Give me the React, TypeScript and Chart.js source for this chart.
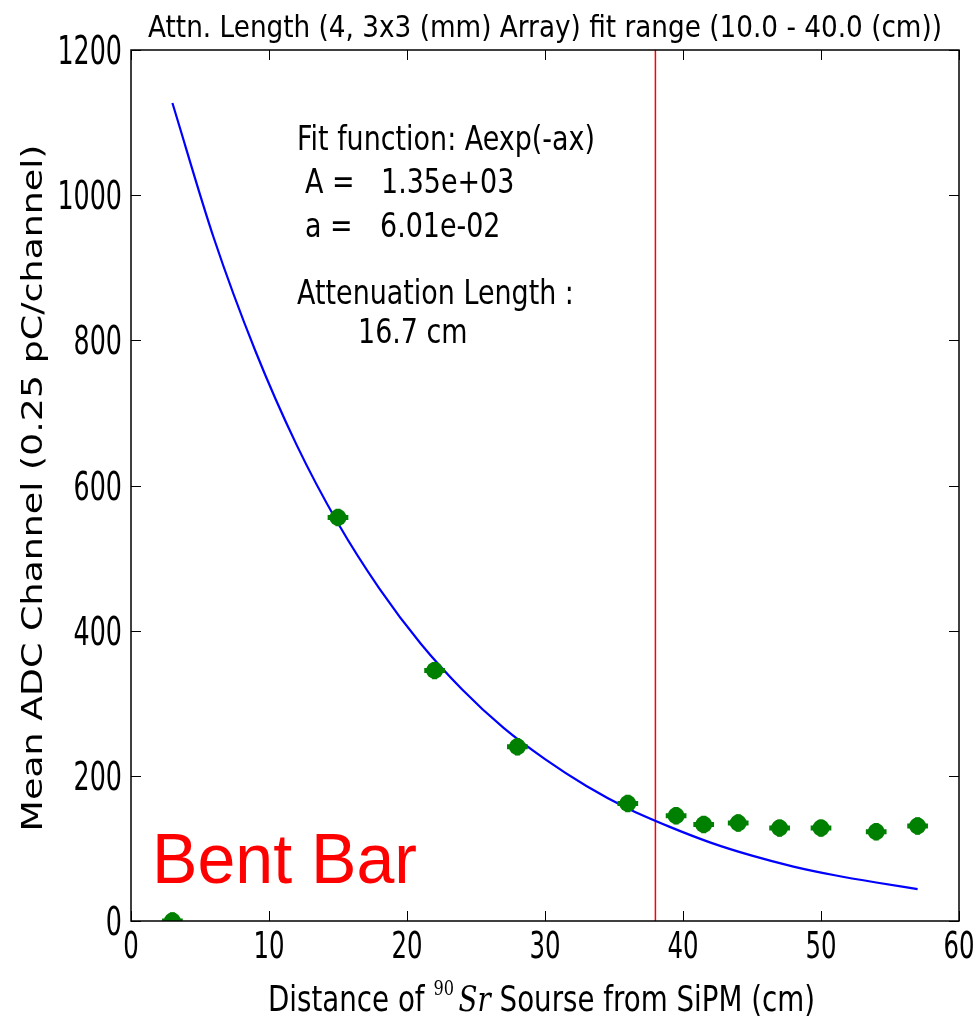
import { useEffect, useRef } from 'react';
import { Chart, registerables } from 'chart.js';

Chart.register(...registerables);

// ---- data ----
const distance = [3, 15, 22, 28, 36, 39.5, 41.5, 44, 47, 50, 54, 57];
const meanAdc = [0, 556, 345, 240, 162, 145, 133, 135, 128, 128, 123, 131];
const distanceErr = [0.75, 0.75, 0.75, 0.75, 0.75, 0.75, 0.75, 0.75, 0.75, 0.75, 0.75, 0.75];
const adcErr = [12, 12, 12, 12, 12, 12, 12, 12, 12, 12, 12, 12];

const fitX = [3, 6, 9, 12, 15, 18, 21, 24, 27, 30, 33, 36, 39, 42, 45, 48, 51, 54, 57];
const fitY = [1127, 941, 786, 656, 548, 458, 382, 319, 266, 223, 186, 155, 130, 108, 90, 75, 63, 53, 44];

const cutX = [38, 38];
const cutY = [0, 1200];

const xTickStep = 10;
const yTickStep = 200;

const titleText = 'Attn. Length (4, 3x3 (mm) Array) fit range (10.0 - 40.0 (cm))';
const yLabelText = 'Mean ADC Channel (0.25 pC/channel)';
const xLabelParts = ['Distance of ', '90', 'Sr', ' Sourse from SiPM (cm)'];
const fitLines = ['Fit function: Aexp(-ax)', 'A =', '1.35e+03', 'a =', '6.01e-02', 'Attenuation Length :', '16.7 cm'];
const tagText = 'Bent Bar';

const SANS = '"DejaVu Sans", sans-serif';
const SERIF = '"DejaVu Serif", "Liberation Serif", serif';

function drawScaled(
  ctx: CanvasRenderingContext2D,
  text: string,
  x: number,
  y: number,
  font: string,
  sx: number,
  align: 'left' | 'center' | 'right',
  color = '#000'
) {
  ctx.save();
  ctx.font = font;
  ctx.fillStyle = color;
  ctx.textBaseline = 'alphabetic';
  ctx.textAlign = 'left';
  const w = ctx.measureText(text).width * sx;
  const x0 = align === 'left' ? x : align === 'center' ? x - w / 2 : x - w;
  ctx.translate(x0, y);
  ctx.scale(sx, 1);
  ctx.fillText(text, 0, 0);
  ctx.restore();
}

function measure(ctx: CanvasRenderingContext2D, text: string, font: string) {
  ctx.save();
  ctx.font = font;
  const w = ctx.measureText(text).width;
  ctx.restore();
  return w;
}

const errorBarPlugin = {
  id: 'errorBars',
  afterDatasetsDraw(chart: any) {
    const ctx: CanvasRenderingContext2D = chart.ctx;
    const xs = chart.scales.x;
    const ys = chart.scales.y;
    const { left, right, top, bottom } = chart.chartArea;
    ctx.save();
    ctx.beginPath();
    ctx.rect(left, top, right - left, bottom - top);
    ctx.clip();
    ctx.strokeStyle = '#008000';
    ctx.lineWidth = 5;
    ctx.lineCap = 'butt';
    distance.forEach((d, i) => {
      const px = xs.getPixelForValue(d);
      const py = ys.getPixelForValue(meanAdc[i]);
      ctx.beginPath();
      ctx.moveTo(xs.getPixelForValue(d - distanceErr[i]), py);
      ctx.lineTo(xs.getPixelForValue(d + distanceErr[i]), py);
      ctx.moveTo(px, ys.getPixelForValue(meanAdc[i] - adcErr[i]));
      ctx.lineTo(px, ys.getPixelForValue(meanAdc[i] + adcErr[i]));
      ctx.stroke();
    });
    ctx.restore();
  },
};

const decorPlugin = {
  id: 'mplDecor',
  afterDraw(chart: any) {
    const ctx: CanvasRenderingContext2D = chart.ctx;
    const xs = chart.scales.x;
    const ys = chart.scales.y;
    const { left, right, top, bottom } = chart.chartArea;
    const TICK = 10;
    ctx.save();
    // frame
    ctx.strokeStyle = '#000';
    ctx.lineWidth = 1.5;
    ctx.strokeRect(left, top, right - left, bottom - top);
    // ticks
    ctx.lineWidth = 1;
    ctx.beginPath();
    xs.ticks.forEach((t: any) => {
      const p = Math.round(xs.getPixelForValue(t.value)) + 0.5;
      ctx.moveTo(p, bottom);
      ctx.lineTo(p, bottom - TICK);
      ctx.moveTo(p, top);
      ctx.lineTo(p, top + TICK);
    });
    ys.ticks.forEach((t: any) => {
      const p = Math.round(ys.getPixelForValue(t.value)) + 0.5;
      ctx.moveTo(left, p);
      ctx.lineTo(left + TICK, p);
      ctx.moveTo(right, p);
      ctx.lineTo(right - TICK, p);
    });
    ctx.stroke();
    ctx.restore();

    // tick labels
    const xTickFont = `37px ${SANS}`;
    xs.ticks.forEach((t: any) => {
      drawScaled(ctx, String(t.value), xs.getPixelForValue(t.value), 958, xTickFont, 0.66, 'center');
    });
    const yTickFont = `39px ${SANS}`;
    ys.ticks.forEach((t: any) => {
      drawScaled(ctx, String(t.value), left - 9, ys.getPixelForValue(t.value) + 14, yTickFont, 0.65, 'right');
    });

    // title
    const titleFont = `30px ${SANS}`;
    const titleSx = 794 / measure(ctx, titleText, titleFont);
    drawScaled(ctx, titleText, 148, 37, titleFont, titleSx, 'left');

    // x label with superscript and math italic
    const xlFont = `36px ${SANS}`;
    const supFont = `21px ${SERIF}`;
    const itFont = `italic 36px ${SERIF}`;
    const w0 = measure(ctx, xLabelParts[0], xlFont);
    const w1 = measure(ctx, xLabelParts[1], supFont);
    const w2 = measure(ctx, xLabelParts[2], itFont);
    const w3 = measure(ctx, xLabelParts[3], xlFont);
    const gap = 6;
    const total = w0 + w1 + gap + w2 + w3;
    const xlSx = 547 / total;
    let cx = 268;
    drawScaled(ctx, xLabelParts[0], cx, 1011, xlFont, xlSx, 'left');
    cx += w0 * xlSx;
    drawScaled(ctx, xLabelParts[1], cx, 995, supFont, xlSx, 'left');
    cx += (w1 + gap) * xlSx;
    drawScaled(ctx, xLabelParts[2], cx, 1011, itFont, xlSx, 'left');
    cx += w2 * xlSx;
    drawScaled(ctx, xLabelParts[3], cx, 1011, xlFont, xlSx, 'left');

    // y label (rotated)
    const ylFont = `36px ${SANS}`;
    const ylLen = measure(ctx, yLabelText, ylFont);
    ctx.save();
    ctx.font = ylFont;
    ctx.fillStyle = '#000';
    ctx.textAlign = 'center';
    ctx.textBaseline = 'middle';
    ctx.translate(35, 488);
    ctx.scale(0.8, 1);
    ctx.rotate(-Math.PI / 2);
    ctx.scale(687 / ylLen, 1);
    ctx.fillText(yLabelText, 0, 0);
    ctx.restore();

    // fit annotation
    const fFont = `34px ${SANS}`;
    const fSx = 298 / measure(ctx, fitLines[0], fFont);
    drawScaled(ctx, fitLines[0], 297, 150, fFont, fSx, 'left');
    drawScaled(ctx, fitLines[1], 305, 193, fFont, fSx, 'left');
    drawScaled(ctx, fitLines[2], 381, 193, fFont, fSx, 'left');
    drawScaled(ctx, fitLines[3], 305, 237, fFont, fSx, 'left');
    drawScaled(ctx, fitLines[4], 380, 237, fFont, fSx, 'left');
    drawScaled(ctx, fitLines[5], 297, 304, fFont, fSx, 'left');
    drawScaled(ctx, fitLines[6], 358, 343, fFont, fSx, 'left');

    // tag
    const tagFont = `70px "Liberation Sans", Arial, sans-serif`;
    const tagSx = 265 / measure(ctx, tagText, tagFont);
    drawScaled(ctx, tagText, 152, 883, tagFont, tagSx, 'left', '#ff0000');
  },
};

export default function App() {
  const canvasRef = useRef<HTMLCanvasElement | null>(null);

  useEffect(() => {
    document.body.style.margin = '0';
    const canvas = canvasRef.current;
    if (!canvas) return;
    const chart = new Chart(canvas, {
      type: 'scatter',
      data: {
        datasets: [
          {
            label: 'data',
            data: distance.map((d, i) => ({ x: d, y: meanAdc[i] })),
            backgroundColor: '#008000',
            borderColor: '#008000',
            pointRadius: 8.5,
            pointHoverRadius: 8.5,
            borderWidth: 0,
            order: 0,
            clip: 0,
          },
          {
            label: 'fit',
            data: fitX.map((d, i) => ({ x: d, y: fitY[i] })),
            showLine: true,
            borderColor: '#0000ff',
            borderWidth: 2.2,
            pointRadius: 0,
            cubicInterpolationMode: 'monotone',
            order: 1,
          },
          {
            label: 'cut',
            data: cutX.map((d, i) => ({ x: d, y: cutY[i] })),
            showLine: true,
            borderColor: '#ff0000',
            borderWidth: 1.5,
            pointRadius: 0,
            order: 2,
            clip: 0,
          },
        ] as any,
      },
      options: {
        animation: false,
        responsive: false,
        maintainAspectRatio: false,
        events: [],
        layout: { padding: { top: 50, right: 18, left: 0, bottom: 0 } },
        plugins: {
          legend: { display: false },
          tooltip: { enabled: false },
          title: { display: false },
        },
        scales: {
          x: {
            type: 'linear',
            min: 0,
            max: 60,
            ticks: { display: false, stepSize: xTickStep },
            grid: { display: false },
            border: { display: false },
            afterFit: (s: any) => {
              s.height = 95;
            },
          },
          y: {
            type: 'linear',
            min: 0,
            max: 1200,
            ticks: { display: false, stepSize: yTickStep },
            grid: { display: false },
            border: { display: false },
            afterFit: (s: any) => {
              s.width = 131;
            },
          },
        },
      } as any,
      plugins: [errorBarPlugin, decorPlugin],
    });
    return () => chart.destroy();
  }, []);

  return (
    <div style={{ width: 977, height: 1016, background: '#fff' }}>
      <canvas ref={canvasRef} width={977} height={1016} style={{ display: 'block' }} />
    </div>
  );
}
